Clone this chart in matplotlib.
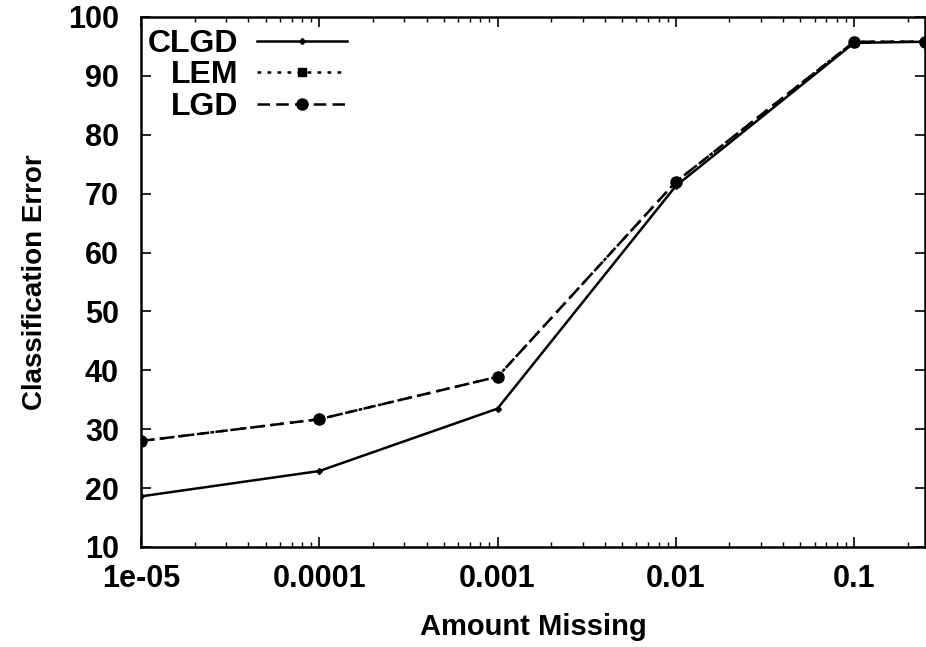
import matplotlib
matplotlib.use("Agg")
import matplotlib.pyplot as plt
from matplotlib.ticker import FixedLocator, FixedFormatter, LogLocator, NullFormatter

x_missing = [1e-05, 1e-04, 1e-03, 1e-02, 1e-01, 0.25]
clgd = [18.6, 22.9, 33.5, 71.3, 95.6, 95.8]
lem = [28.0, 31.7, 38.9, 72.0, 95.8, 95.8]
lgd = [28.0, 31.7, 38.9, 72.0, 95.8, 95.8]

x_ticks = [1e-05, 1e-04, 1e-03, 1e-02, 1e-01]
x_tick_labels = ["1e-05", "0.0001", "0.001", "0.01", "0.1"]
y_ticks = [10, 20, 30, 40, 50, 60, 70, 80, 90, 100]

plt.rcParams['font.family'] = ['Liberation Sans', 'DejaVu Sans']
plt.rcParams['font.weight'] = 'bold'

fig = plt.figure(figsize=(9.26, 6.47), dpi=100)
ax = fig.add_axes([141/926, 1 - 547/647, (925 - 141)/926, (547 - 17)/647])

ax.plot(x_missing, clgd, color='black', lw=1.8, ls='-', marker='D', ms=3, label='CLGD')
ax.plot(x_missing, lem, color='black', lw=1.8, ls=(0, (1.5, 2.5)), marker='s', ms=6, label='LEM')
ax.plot(x_missing, lgd, color='black', lw=1.8, ls=(0, (5, 2.5)), marker='o', ms=8, label='LGD')

ax.set_xscale('log')
ax.set_xlim(1e-05, 0.25)
ax.set_ylim(10, 100)
ax.xaxis.set_major_locator(FixedLocator(x_ticks))
ax.xaxis.set_major_formatter(FixedFormatter(x_tick_labels))
ax.xaxis.set_minor_locator(LogLocator(base=10, subs=range(2, 10), numticks=20))
ax.xaxis.set_minor_formatter(NullFormatter())
ax.yaxis.set_major_locator(FixedLocator(y_ticks))

ax.tick_params(axis='both', which='major', direction='in', length=7, width=1.2,
               top=True, right=True, labelsize=22)
ax.tick_params(axis='y', which='major', pad=16)
ax.tick_params(axis='x', which='major', pad=12)
ax.tick_params(axis='x', which='minor', direction='in', length=3.5, width=1.0, top=True)
for s in ax.spines.values():
    s.set_linewidth(1.8)

ax.set_xlabel('Amount Missing', fontsize=21, fontweight='bold', labelpad=14)
ax.set_ylabel('Classification Error', fontsize=20, fontweight='bold', labelpad=14)

leg = ax.legend(loc='upper left', markerfirst=False, frameon=False, fontsize=23,
                handlelength=2.8, handletextpad=0.6, labelspacing=0.05,
                borderaxespad=0.0, borderpad=0.2, bbox_to_anchor=(0.0, 0.99))

fig.savefig('out.png', dpi=100)
